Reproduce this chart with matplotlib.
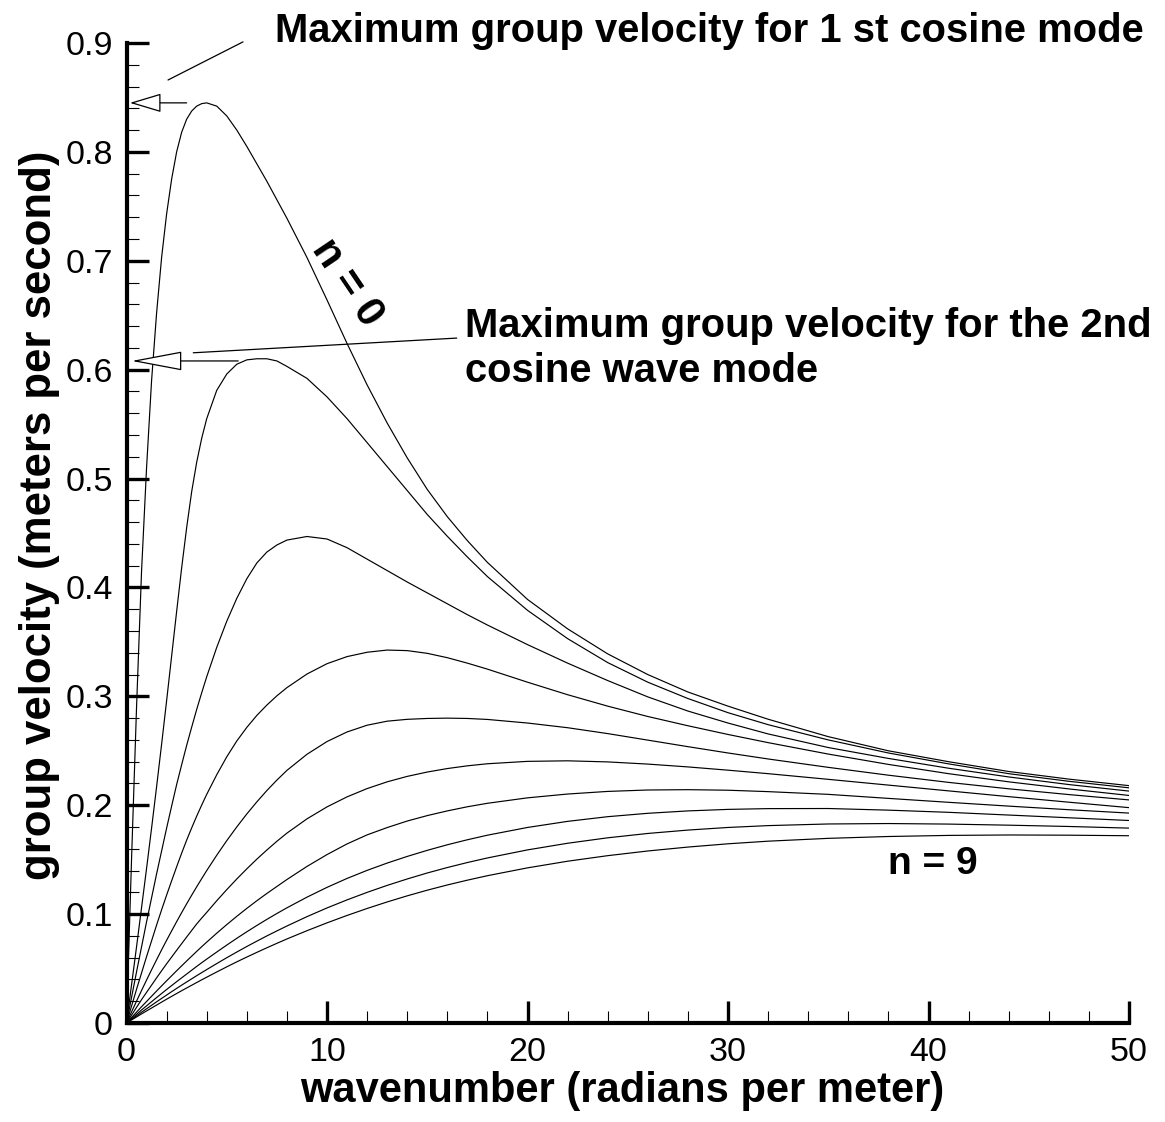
import numpy as np
import matplotlib
matplotlib.use("Agg")
import matplotlib.pyplot as plt
from matplotlib.ticker import MultipleLocator

plt.rcParams['font.family'] = ['Liberation Sans', 'DejaVu Sans']

# DATA
k = [0, .25, .5, .75, 1, 1.25, 1.5, 1.75, 2, 2.25, 2.5, 2.75, 3, 3.25, 3.5, 3.75, 4, 4.5, 5, 5.5,
     6, 6.5, 7, 7.5, 8, 9, 10, 11, 12, 13, 14, 15, 16, 17, 18, 20, 22, 24, 26, 28, 30, 32, 35,
     38, 41, 44, 47, 50]

n0 = [0, .15, .29, .415, .51, .59, .652, .703, .743, .775, .80, .818, .83, .8375, .842, .8443,
      .845, .842, .833, .82, .805, .789, .773, .756, .739, .703, .664, .624, .586, .551, .519,
      .49, .465, .443, .423, .389, .362, .339, .32, .304, .291, .279, .263, .25, .24, .231, .224, .218]
n1 = [0, .035, .07, .106, .142, .179, .217, .256, .296, .337, .378, .418, .455, .488, .515, .537,
      .555, .581, .596, .605, .609, .61, .61, .608, .603, .592, .575, .555, .533, .511, .489,
      .467, .447, .428, .41, .379, .353, .331, .313, .298, .285, .274, .26, .248, .238, .229, .222, .216]
n2 = [0, .0235, .047, .07, .093, .115, .137, .158, .179, .1992, .219, .2372, .255, .2717, .288, .3033,
      .318, .345, .369, .39, .408, .4225, .4325, .439, .4435, .4468, .4445, .4365, .426, .4155, .405,
      .395, .385, .375, .3655, .3475, .3305, .3145, .2995, .2865, .2755, .2655, .253, .243, .234, .226, .219, .213]
n3 = [0, .0155, .031, .046, .061, .0755, .09, .104, .1175, .1306, .1435, .156, .168, .1792, .19, .2002,
      .21, .228, .2445, .259, .2715, .2825, .292, .3005, .308, .3205, .33, .3365, .3405, .3425, .342,
      .3395, .3355, .3305, .325, .313, .3015, .291, .2815, .273, .265, .2575, .247, .2375, .229, .2215, .215, .209]
n4 = [0, .0102, .0201, .0299, .0395, .0489, .0581, .0672, .076, .0846, .0931, .1014, .1095, .1174, .1251, .1326,
      .14, .1541, .1675, .1801, .192, .2031, .2135, .2231, .232, .2468, .2585, .2673, .2735, .2772, .2789,
      .2797, .28, .2797, .2788, .2755, .2712, .2658, .2598, .2538, .248, .2425, .2348, .2276, .221, .2151, .2098, .2049]
n5 = [0, .0072, .0144, .0215, .0282, .0348, .0415, .048, .0544, .0606, .0668, .0729, .079, .085, .091, .0964,
      .1016, .1123, .1225, .1323, .1416, .1505, .1589, .1669, .1744, .1875, .1985, .2077, .2153, .2215, .2265,
      .2305, .2337, .2362, .2381, .2403, .2408, .2398, .2378, .2352, .2322, .229, .2238, .2185, .2132, .2079, .2028, .1978]
n6 = [0, .005, .01, .015, .0198, .0246, .0294, .0341, .0388, .0434, .048, .0525, .057, .0614, .0658, .0701,
      .0743, .0825, .0904, .098, .1053, .1123, .119, .1254, .1318, .1438, .1547, .1645, .1728, .1795, .1855,
      .1905, .1948, .1986, .2018, .2068, .2103, .2127, .214, .2143, .2138, .2125, .21, .2063, .2027, .1992, .1959, .1928]
n7 = [0, .004, .008, .012, .0158, .0196, .0234, .0271, .0308, .0344, .038, .0415, .045, .0485, .052, .0554,
      .0587, .0652, .0716, .0778, .0838, .0896, .0952, .1006, .1058, .1156, .1246, .1328, .1402, .1469, .153,
      .1586, .1637, .1683, .1725, .1796, .1852, .1895, .1926, .1948, .1962, .1969, .197, .1955, .1935, .191, .1885, .186]
n8 = [0, .0033, .0066, .0099, .0131, .0163, .0195, .0226, .0257, .0288, .0318, .0348, .0377, .0406, .0435, .0463,
      .0491, .0546, .06, .0652, .0703, .0752, .08, .0846, .0891, .0977, .1057, .1131, .12, .1264, .1323,
      .1378, .1428, .1474, .1516, .159, .1651, .1701, .1741, .1772, .1796, .1813, .1828, .1832, .1827, .1817, .1805, .179]
n9 = [0, .0028, .0056, .0084, .0111, .0138, .0165, .0192, .0219, .0245, .0271, .0297, .0322, .0347, .0372, .0397,
      .0421, .0469, .0516, .0562, .0606, .0649, .0691, .0732, .0772, .0848, .092, .0988, .1052, .1112, .1168,
      .122, .1268, .1312, .1353, .1425, .1486, .1537, .158, .1616, .1646, .167, .1696, .1713, .1723, .1727, .1725, .172]
modes = [n0, n1, n2, n3, n4, n5, n6, n7, n8, n9]

# PLOT
fig = plt.figure(figsize=(11.65, 11.22), dpi=100)
ax = fig.add_axes([0.1086, 0.0882, 0.8605, 0.8735])

for vg in modes:
    ax.plot(k, vg, color='black', lw=0.85)

ax.set_xlim(0, 50)
ax.set_ylim(0, 0.9)
ax.xaxis.set_major_locator(MultipleLocator(10))
ax.xaxis.set_minor_locator(MultipleLocator(2))
ax.yaxis.set_minor_locator(MultipleLocator(0.02))
ax.set_yticks(np.arange(0, 0.91, 0.1))
ax.set_yticklabels(['0', '0.1', '0.2', '0.3', '0.4', '0.5', '0.6', '0.7', '0.8', '0.9'])
for s in ['top', 'right']:
    ax.spines[s].set_visible(False)
for s in ['left', 'bottom']:
    ax.spines[s].set_linewidth(3)
ax.tick_params(which='major', direction='in', length=16, width=2.4, labelsize=24.5, pad=10)
ax.tick_params(which='minor', direction='in', length=8.5, width=0.8)

ax.set_xlabel('wavenumber (radians per meter)', fontsize=30, fontweight='bold')
ax.set_ylabel('group velocity (meters per second)', fontsize=31.5, fontweight='bold')
ax.xaxis.set_label_coords(0.4945, -0.049)
ax.yaxis.set_label_coords(-0.066, 0.518)

# annotations
ax.text(7.42, 0.901, 'Maximum group velocity for 1 st cosine mode', fontsize=28.8,
        fontweight='bold', va='baseline', ha='left', clip_on=False)
ax.annotate('', xy=(2.07, 0.866), xytext=(5.81, 0.901),
            arrowprops=dict(arrowstyle='-', lw=0.9, color='black', shrinkA=0, shrinkB=0),
            annotation_clip=False)
ax.annotate('', xy=(0.17, 0.845), xytext=(3.0, 0.845),
            arrowprops=dict(arrowstyle='-|>,head_length=1.0,head_width=0.3', mutation_scale=20,
                            fc='white', ec='black', lw=0.9, shrinkA=0, shrinkB=0))

ax.text(16.88, 0.630, 'Maximum group velocity for the 2nd', fontsize=28.8,
        fontweight='bold', va='baseline', ha='left', clip_on=False)
ax.text(16.88, 0.589, 'cosine wave mode', fontsize=28.8,
        fontweight='bold', va='baseline', ha='left', clip_on=False)
ax.annotate('', xy=(3.33, 0.6155), xytext=(16.47, 0.629),
            arrowprops=dict(arrowstyle='-', lw=0.9, color='black', shrinkA=0, shrinkB=0))
ax.annotate('', xy=(0.26, 0.608), xytext=(5.57, 0.608),
            arrowprops=dict(arrowstyle='-|>,head_length=1.64,head_width=0.31', mutation_scale=20,
                            fc='white', ec='black', lw=0.9, shrinkA=0, shrinkB=0))

ax.text(11.0, 0.68, 'n = 0', fontsize=30, fontweight='bold', rotation=-56,
        rotation_mode='anchor', ha='center', va='center')
ax.text(40.2, 0.1465, 'n = 9', fontsize=28, fontweight='bold', ha='center', va='center')

fig.savefig('out.png', dpi=100)
